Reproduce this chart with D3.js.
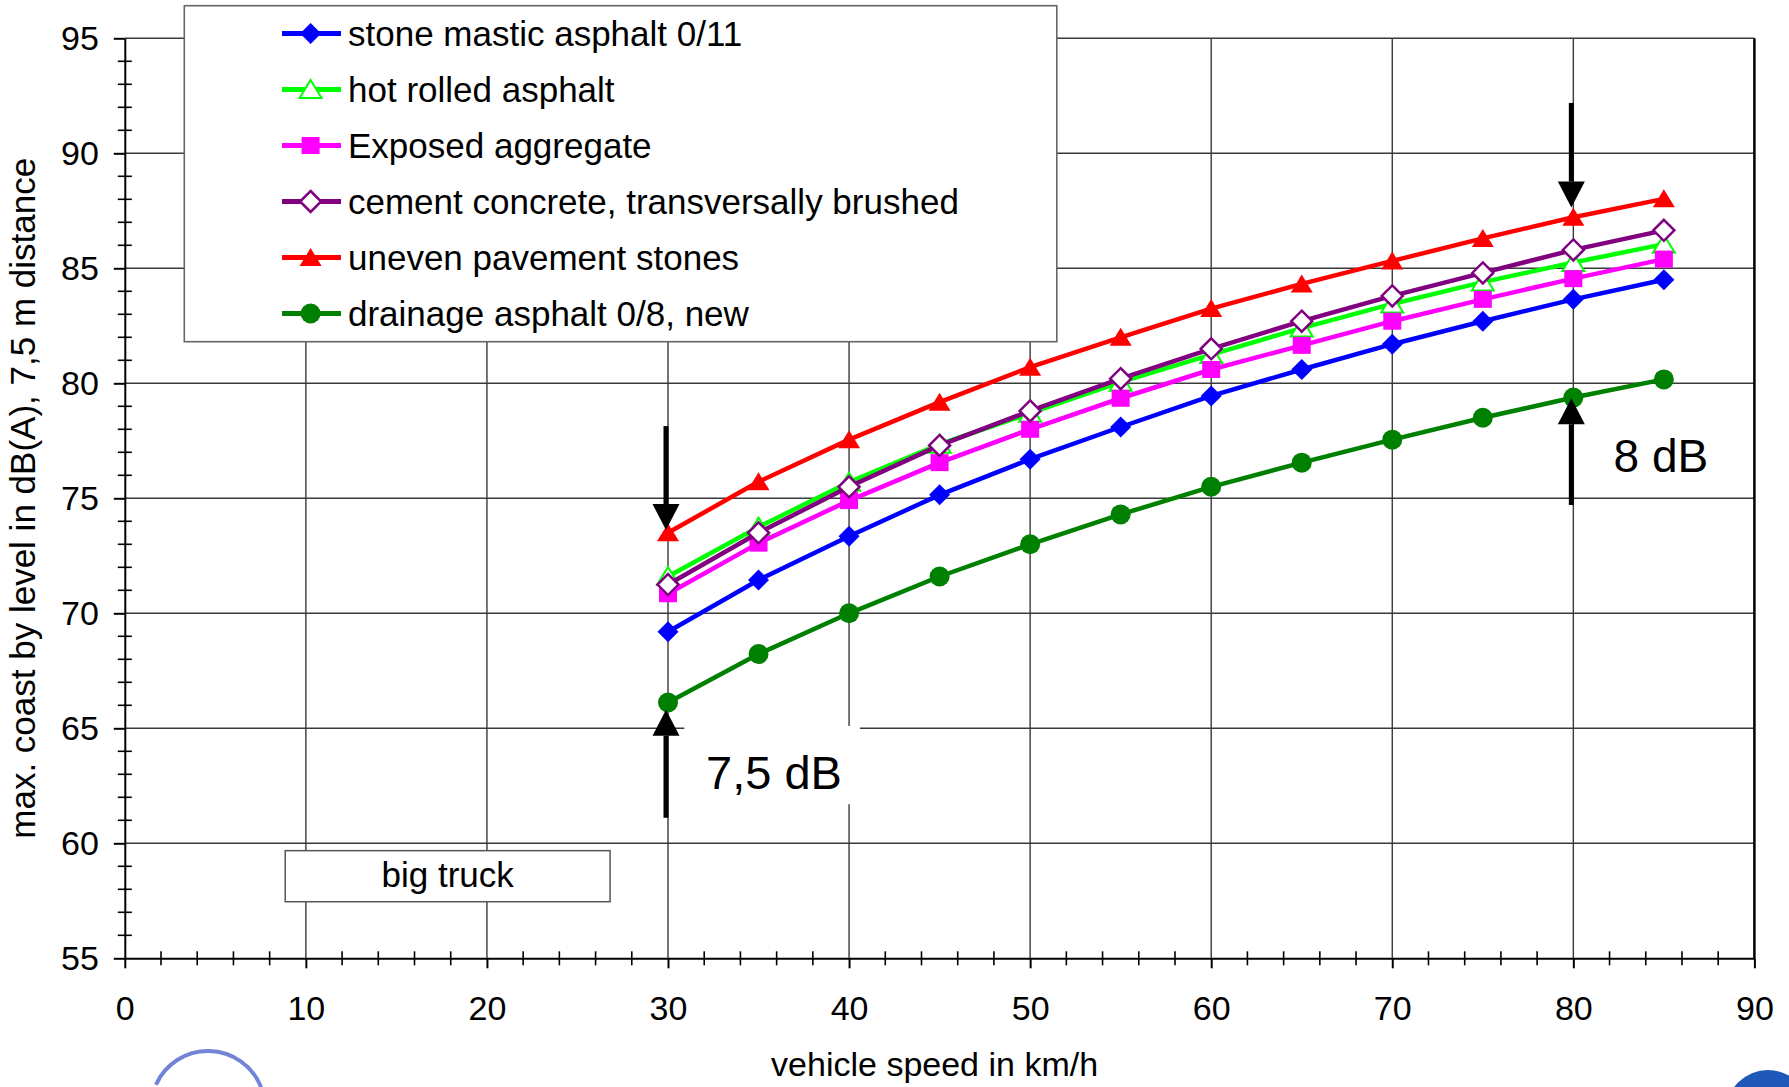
<!DOCTYPE html>
<html>
<head>
<meta charset="utf-8">
<script src="https://cdn.jsdelivr.net/npm/d3@7"></script>
<style>
    body{ margin:0; background:#fff; }
    svg text{ font-family: "Liberation Sans", Arial, sans-serif; fill:#000; }
    .grid line{ stroke:#3a3a3a; stroke-width:1.4px; }
    .axis path, .axis line{ stroke:#000; stroke-width:2px; }
    .axis text{ font-size:34px; }
    .series path.line{ fill:none; stroke-width:4.5px; stroke-linejoin:round; }
</style>
</head>
<body>
<svg id="chart" width="1789" height="1087"></svg>
<script>
// speeds in km/h
var speeds = [30, 35, 40, 45, 50, 55, 60, 65, 70, 75, 80, 85];

// max. coast by level in dB(A)
var smaValues      = [69.2, 71.45, 73.35, 75.15, 76.7, 78.1, 79.45, 80.6, 81.7, 82.7, 83.65, 84.5];
var hraValues      = [71.6, 73.75, 75.7, 77.35, 78.7, 80.05, 81.25, 82.4, 83.45, 84.4, 85.25, 86.05];
var exposedValues  = [70.85, 73.05, 74.9, 76.55, 78.0, 79.35, 80.6, 81.65, 82.7, 83.65, 84.55, 85.4];
var cementValues   = [71.25, 73.5, 75.5, 77.3, 78.8, 80.2, 81.5, 82.7, 83.8, 84.8, 85.8, 86.65];
var unevenValues   = [73.5, 75.72, 77.55, 79.18, 80.7, 82.0, 83.25, 84.32, 85.32, 86.3, 87.22, 88.02];
var drainageValues = [66.12, 68.23, 70.0, 71.6, 73.0, 74.3, 75.5, 76.55, 77.55, 78.5, 79.38, 80.17];

var seriesNames = [
    "stone mastic asphalt 0/11",
    "hot rolled asphalt",
    "Exposed aggregate",
    "cement concrete, transversally brushed",
    "uneven pavement stones",
    "drainage asphalt 0/8, new"
];
var seriesValues = [smaValues, hraValues, exposedValues, cementValues, unevenValues, drainageValues];
var seriesColors = ["#0000ff", "#00ff00", "#ff00ff", "#800080", "#ff0000", "#008000"];
var seriesShapes = ["diamond", "triangleOpen", "square", "diamondOpen", "triangle", "circle"];

var xTicks = [0, 10, 20, 30, 40, 50, 60, 70, 80, 90];
var yTicks = [55, 60, 65, 70, 75, 80, 85, 90, 95];

// annotations (data units)
var arrows = [
    {x: 30, from: 78.14, to: 73.62},
    {x: 30, from: 61.11, to: 65.81},
    {x: 80, from: 92.19, to: 87.64},
    {x: 80, from: 74.71, to: 79.35}
];
var notes = [
    {text: "7,5 dB", x: 32.1, y: 62.37, size: 47, box: [30.9, 40.6, 65.1, 61.7]},
    {text: "8 dB", x: 82.22, y: 76.16, size: 46}
];
var truckLabel = {text: "big truck", x0: 8.86, x1: 26.8, y0: 59.68, y1: 57.46};

var svg = d3.select("#chart");
var plotLeft = 124.8, plotRight = 1754.4, plotTop = 38.3, plotBottom = 958.3;

var x = d3.scaleLinear().domain([0, 90]).range([plotLeft, plotRight]);
var y = d3.scaleLinear().domain([55, 95]).range([plotBottom, plotTop]);

// grid
var grid = svg.append("g").attr("class", "grid");
grid.selectAll("line.v")
    .data(xTicks.filter(function(d){ return d > 0 && d < 90; }))
    .enter().append("line")
        .attr("x1", function(d){ return x(d); })
        .attr("x2", function(d){ return x(d); })
        .attr("y1", y(95)).attr("y2", y(55));
grid.selectAll("line.h")
    .data(yTicks.filter(function(d){ return d > 55; }))
    .enter().append("line")
        .attr("x1", x(0)).attr("x2", x(90))
        .attr("y1", function(d){ return y(d); })
        .attr("y2", function(d){ return y(d); });

// right border
svg.append("line")
    .attr("x1", x(90)).attr("x2", x(90))
    .attr("y1", y(95)).attr("y2", y(55))
    .attr("stroke", "#000").attr("stroke-width", 2.5);

// axes
var xAxis = d3.axisBottom(x).tickValues(xTicks).tickSize(10).tickSizeOuter(0).tickPadding(28);
var yAxis = d3.axisLeft(y).tickValues(yTicks).tickSize(11).tickSizeOuter(0).tickPadding(15);

svg.append("g").attr("class", "axis")
    .attr("transform", "translate(0," + y(55) + ")")
    .call(xAxis);
svg.append("g").attr("class", "axis")
    .attr("transform", "translate(" + x(0) + ",0)")
    .call(yAxis);

// minor ticks crossing the axes
var minor = svg.append("g").attr("stroke", "#000").attr("stroke-width", 1.6);
minor.selectAll("line.mx")
    .data(d3.range(2, 90, 2).filter(function(d){ return d % 10 !== 0; }))
    .enter().append("line")
        .attr("x1", function(d){ return x(d); })
        .attr("x2", function(d){ return x(d); })
        .attr("y1", y(55) - 7).attr("y2", y(55) + 7);
minor.selectAll("line.my")
    .data(d3.range(56, 95, 1).filter(function(d){ return d % 5 !== 0; }))
    .enter().append("line")
        .attr("x1", x(0) - 7).attr("x2", x(0) + 7)
        .attr("y1", function(d){ return y(d); })
        .attr("y2", function(d){ return y(d); });

// axis titles
svg.append("text")
    .attr("x", (x(0) + x(90)) / 2 - 5)
    .attr("y", 1076)
    .attr("text-anchor", "middle")
    .style("font-size", "34px")
    .text("vehicle speed in km/h");

svg.append("text")
    .attr("transform", "translate(35," + ((y(55) + y(95)) / 2) + ") rotate(-90)")
    .attr("text-anchor", "middle")
    .style("font-size", "35px")
    .text("max. coast by level in dB(A), 7,5 m distance");

// marker shapes
function markerPath(shape){
    switch(shape){
        case "diamond":
        case "diamondOpen":
            return "M0,-10.5L10.5,0L0,10.5L-10.5,0Z";
        case "square":
            return "M-9,-8.5H9V8.5H-9Z";
        case "triangle":
        case "triangleOpen":
            return "M0,-9.5L11,8.5H-11Z";
        case "circle":
            return "M-10,0A10,10 0 1,0 10,0A10,10 0 1,0 -10,0Z";
    }
}
function markerFill(shape, color){
    return (shape === "diamondOpen" || shape === "triangleOpen") ? "#fff" : color;
}
function markerStroke(shape){
    if (shape === "diamondOpen") return 2.5;
    if (shape === "triangleOpen") return 2;
    return 0;
}

// "7,5 dB" white background
svg.append("rect")
    .attr("x", x(notes[0].box[0])).attr("y", y(notes[0].box[2]))
    .attr("width", x(notes[0].box[1]) - x(notes[0].box[0]))
    .attr("height", y(notes[0].box[3]) - y(notes[0].box[2]))
    .attr("fill", "#fff");

// series
var line = d3.line()
    .x(function(d){ return x(d[0]); })
    .y(function(d){ return y(d[1]); });

seriesValues.forEach(function(vals, i){
    var pts = speeds.map(function(s, j){ return [s, vals[j]]; });
    var g = svg.append("g").attr("class", "series");
    g.append("path")
        .attr("class", "line")
        .attr("d", line(pts))
        .attr("stroke", seriesColors[i]);
    g.selectAll("path.mark")
        .data(pts)
        .enter().append("path")
            .attr("class", "mark")
            .attr("transform", function(d){ return "translate(" + x(d[0]) + "," + y(d[1]) + ")"; })
            .attr("d", markerPath(seriesShapes[i]))
            .attr("fill", markerFill(seriesShapes[i], seriesColors[i]))
            .attr("stroke", seriesColors[i])
            .attr("stroke-width", markerStroke(seriesShapes[i]));
});

// arrows
var arr = svg.append("g");
arrows.forEach(function(a){
    var xs = x(a.x) - 2;
    var y0 = y(a.from), y1 = y(a.to);
    var dir = y1 > y0 ? 1 : -1;
    var headLen = 26, headHalf = 13.5;
    arr.append("line")
        .attr("x1", xs).attr("x2", xs)
        .attr("y1", y0).attr("y2", y1 - dir * headLen)
        .attr("stroke", "#000").attr("stroke-width", 5);
    arr.append("path")
        .attr("d", "M" + xs + "," + y1 +
                   "L" + (xs - headHalf) + "," + (y1 - dir * headLen) +
                   "L" + (xs + headHalf) + "," + (y1 - dir * headLen) + "Z")
        .attr("fill", "#000");
});

// notes
notes.forEach(function(n){
    svg.append("text")
        .attr("x", x(n.x)).attr("y", y(n.y))
        .style("font-size", n.size + "px")
        .text(n.text);
});

// big truck label
svg.append("rect")
    .attr("x", x(truckLabel.x0)).attr("y", y(truckLabel.y0))
    .attr("width", x(truckLabel.x1) - x(truckLabel.x0))
    .attr("height", y(truckLabel.y1) - y(truckLabel.y0))
    .attr("fill", "#fff").attr("stroke", "#555").attr("stroke-width", 1.5);
svg.append("text")
    .attr("x", (x(truckLabel.x0) + x(truckLabel.x1)) / 2)
    .attr("y", (y(truckLabel.y0) + y(truckLabel.y1)) / 2 + 11)
    .attr("text-anchor", "middle")
    .style("font-size", "35px")
    .text(truckLabel.text);

// legend
var legend = svg.append("g");
legend.append("rect")
    .attr("x", 184.3).attr("y", 5.7)
    .attr("width", 872.5).attr("height", 336)
    .attr("fill", "#fff").attr("stroke", "#666").attr("stroke-width", 1.6);

var rows = legend.selectAll("g.row")
    .data(seriesNames)
    .enter().append("g")
        .attr("class", "row")
        .attr("transform", function(d, i){ return "translate(0," + (33.5 + i * 56) + ")"; });
rows.append("line")
    .attr("x1", 282).attr("x2", 341)
    .attr("stroke", function(d, i){ return seriesColors[i]; })
    .attr("stroke-width", 5);
rows.append("path")
    .attr("transform", "translate(310.6,0)")
    .attr("d", function(d, i){ return markerPath(seriesShapes[i]); })
    .attr("fill", function(d, i){ return markerFill(seriesShapes[i], seriesColors[i]); })
    .attr("stroke", function(d, i){ return seriesColors[i]; })
    .attr("stroke-width", function(d, i){ return markerStroke(seriesShapes[i]); });
rows.append("text")
    .attr("x", 348).attr("dy", "0.35em")
    .style("font-size", "35px")
    .text(function(d){ return d; });

// logo fragments at the bottom edge
svg.append("path")
    .attr("transform", "translate(208,1108)")
    .attr("d", d3.arc().innerRadius(55).outerRadius(59).startAngle(-1.15).endAngle(1.2)())
    .attr("fill", "#5a6fd0").attr("opacity", 0.85);
svg.append("circle")
    .attr("cx", 1768).attr("cy", 1112).attr("r", 42)
    .attr("fill", "#1f58b8");
</script>
</body>
</html>
